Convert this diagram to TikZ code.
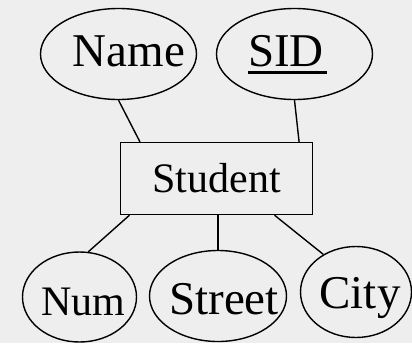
\documentclass[tikz,border=0pt]{standalone}
\usepackage{fontspec}
\setmainfont{Liberation Serif}
\usetikzlibrary{shapes.geometric,calc}
\definecolor{bggray}{HTML}{EEEEEE}

\begin{document}
\begin{tikzpicture}[x=1pt,y=1pt,
        attr/.style={draw, ellipse, line width=1.4pt, inner sep=0pt},
        entity/.style={draw, rectangle, line width=1.4pt, minimum width=192pt, minimum height=72pt,
            font=\fontsize{42}{44}\selectfont},
        lbl/.style={anchor=base, inner sep=0pt, font=\fontsize{47}{50}\selectfont},
        link/.style={line width=1.4pt}]
                \fill[bggray] (0,0) rectangle (412,-343);
                \useasboundingbox (0,0) rectangle (412,-343);

                % entity and its attributes
                \node[entity] (student) at (216.5,-178.5) {Student};
                \node[attr, minimum width=156pt, minimum height=91pt] (name) at (118.5,-54) {};
                \node[attr, minimum width=156pt, minimum height=91pt] (sid) at (294.5,-54) {};
                \node[attr, minimum width=114pt, minimum height=90pt] (num) at (79.5,-297) {};
                \node[attr, minimum width=137pt, minimum height=91pt] (street) at (218,-296) {};
                \node[attr, minimum width=111pt, minimum height=91pt] (city) at (356,-292) {};

                \node[lbl] (nametxt) at (129,-66) {Name};
                \node[lbl] (sidtxt) at (286,-66) {SID};
                \node[lbl, font=\fontsize{42}{44}\selectfont] (numtxt) at (83.5,-315) {Num};
                \node[lbl] (streettxt) at (224,-314) {Street};
                \node[lbl] (citytxt) at (360,-308) {City};
                \draw[line width=3pt] ([yshift=-6pt]sidtxt.south west) -- ([yshift=-6pt,xshift=3pt]sidtxt.south east);

                % connectors
                \draw[link] (name.south) -- ($(student.north west)!0.104!(student.north east)$);
                \draw[link] (sid.south) -- ($(student.north west)!0.927!(student.north east)$);
                \draw[link] ($(student.south west)!0.05!(student.south east)$) -- (num.79);
                \draw[link] (street.north |- student.south) -- (street.north);
                \draw[link] ($(student.south west)!0.80!(student.south east)$) -- (city.131);
            \end{tikzpicture}
\end{document}
